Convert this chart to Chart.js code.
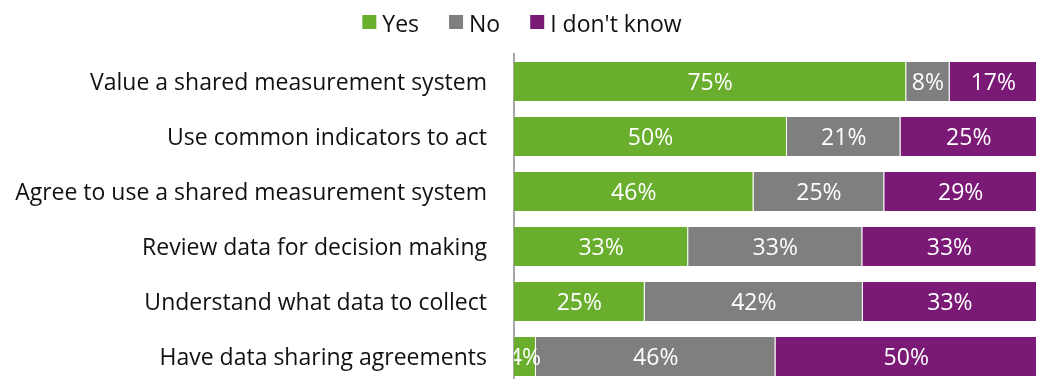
<!DOCTYPE html>
<html><head><meta charset="utf-8">
<script src="https://cdn.jsdelivr.net/npm/chart.js@4"></script>
<style>html,body{margin:0;padding:0;background:#fff;overflow:hidden}#wrap{width:1044px;height:379px;overflow:hidden}#box{position:relative;width:1044px;height:384px}</style>
</head><body><div id="wrap"><div id="box"><canvas id="c"></canvas></div></div>
<script>
const categories = [
  'Value a shared measurement system',
  'Use common indicators to act',
  'Agree to use a shared measurement system',
  'Review data for decision making',
  'Understand what data to collect',
  'Have data sharing agreements'
];
const seriesNames = ['Yes', 'No', "I don't know"];
const yesValues = [75, 52.2, 45.8, 33.3, 25, 4.2];
const noValues = [8.3, 21.7, 25, 33.3, 41.7, 45.8];
const dontKnowValues = [16.7, 26.1, 29.2, 33.3, 33.3, 50];
const yesLabels = ['75%', '50%', '46%', '33%', '25%', '4%'];
const noLabels = ['8%', '21%', '25%', '33%', '42%', '46%'];
const dontKnowLabels = ['17%', '25%', '29%', '33%', '33%', '50%'];
const colors = ['#6AAE2D', '#7F7F7F', '#7A1A76'];
const FONT = '"Open Sans"';

const valueLabelPlugin = {
  id: 'valueLabels',
  afterDatasetsDraw(chart) {
    const ctx = chart.ctx, a = chart.chartArea;
    ctx.save();
    ctx.beginPath(); ctx.rect(a.left, 0, a.right - a.left, chart.height); ctx.clip();
    ctx.font = '23px ' + FONT; ctx.fillStyle = '#fff';
    ctx.textAlign = 'center'; ctx.textBaseline = 'middle';
    chart.data.datasets.forEach((ds, i) => {
      chart.getDatasetMeta(i).data.forEach((el, j) => {
        ctx.fillText(ds.valueLabels[j], (el.x + el.base) / 2, el.y + 2);
      });
    });
    ctx.restore();
  }
};
const legendPlugin = {
  id: 'customLegend',
  afterDraw(chart) {
    const ctx = chart.ctx;
    ctx.save();
    ctx.font = '23px ' + FONT; ctx.textBaseline = 'alphabetic'; ctx.textAlign = 'left';
    const box = 14, gapText = 6, gapItem = 30;
    const items = chart.data.datasets.map(ds => ({ t: ds.label, c: ds.backgroundColor, w: ctx.measureText(ds.label).width }));
    let total = items.reduce((s, it) => s + box + gapText + it.w, 0) + gapItem * (items.length - 1);
    let x = chart.width / 2 - total / 2;
    items.forEach(it => {
      ctx.fillStyle = it.c; ctx.fillRect(x, 15, box, box);
      ctx.fillStyle = '#111'; ctx.fillText(it.t, x + box + gapText, 32);
      x += box + gapText + it.w + gapItem;
    });
    ctx.restore();
  }
};

new Chart(document.getElementById('c'), {
  type: 'bar',
  data: {
    labels: categories,
    datasets: [
      { label: seriesNames[0], data: yesValues, valueLabels: yesLabels, backgroundColor: colors[0] },
      { label: seriesNames[1], data: noValues, valueLabels: noLabels, backgroundColor: colors[1] },
      { label: seriesNames[2], data: dontKnowValues, valueLabels: dontKnowLabels, backgroundColor: colors[2] }
    ].map(d => Object.assign(d, { borderColor: 'rgba(255,255,255,0.3)', borderWidth: 1, barPercentage: 0.745, categoryPercentage: 1 }))
  },
  options: {
    indexAxis: 'y', responsive: true, maintainAspectRatio: false, animation: false, devicePixelRatio: 1,
    layout: { padding: { top: 54, right: 7, bottom: 0, left: 0 } },
    plugins: { legend: { display: false }, tooltip: { enabled: false } },
    scales: {
      x: { stacked: true, min: 0, max: 100, display: false },
      y: {
        stacked: true,
        grid: { display: false },
        border: { display: true, color: '#A6A6A6', width: 2 },
        ticks: { color: '#111', font: { family: FONT, size: 23 }, padding: 19, labelOffset: 2 },
        afterFit(s) { s.width = 514; s.paddingTop = 0; s.paddingBottom = 0; }
      }
    }
  },
  plugins: [valueLabelPlugin, legendPlugin]
});
</script></body></html>
